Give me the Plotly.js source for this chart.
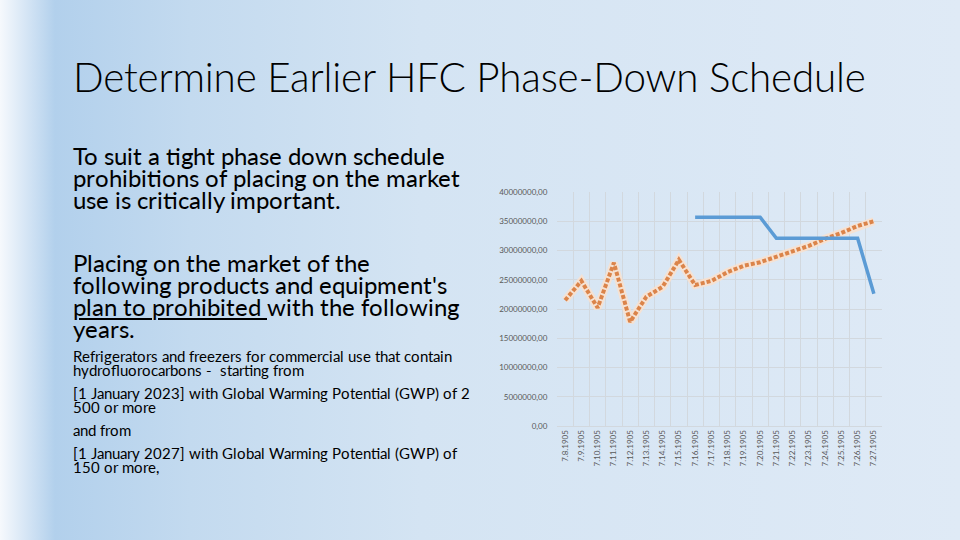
<!DOCTYPE html>
<html>
<head>
<meta charset="utf-8">
<script src="https://cdn.plot.ly/plotly-3.0.1.min.js"></script>
<style>
  /* same Lato glyphs, tighter line metrics so the slide's close line spacing fits */
  @font-face {
    font-family: "LatoTight";
    src: local("Lato Regular"), local("Lato-Regular"), local("Lato");
    ascent-override: 74%;
    descent-override: 17%;
    line-gap-override: 0%;
  }
  html, body { margin: 0; padding: 0; }
  body {
    width: 960px; height: 540px; overflow: hidden; position: relative;
    background: linear-gradient(to right, #f6f9fd 0px, #b2d0ec 55px, #c3daef 190px, #d4e4f3 420px, #dfeaf6 960px);
    font-family: Lato, "Open Sans", sans-serif; color: #000;
  }
  #chart { position: absolute; left: 0; top: 0; width: 960px; height: 540px; }
  .txt { position: absolute; left: 73px; white-space: nowrap; pointer-events: none; }
  #title { top: 52px; left: 73px; font-size: 40.4px; font-weight: 300; letter-spacing: -0.2px; }
  #p1, #p2, #p3 { font-family: LatoTight, Lato, sans-serif; }
  #p1, #p2 { font-size: 24px; }
  #p1 { top: 146.5px; }
  #p2 { top: 253.5px; }
  #p1 .ln, #p2 .ln { height: 22px; line-height: 22px; }
  #p3 { top: 351px; font-size: 15px; }
  #p3 .ln { height: 14px; line-height: 14px; }
  #p3 .gap { height: 9px; }
  u { text-decoration-thickness: 2px; text-underline-offset: 2px; }
</style>
</head>
<body>
<div id="chart"></div>
<div class="txt" id="title">Determine Earlier HFC Phase-Down Schedule</div>
<div class="txt" id="p1">
  <div class="ln">To suit a tight phase down schedule</div>
  <div class="ln">prohibitions of placing on the market</div>
  <div class="ln">use is critically important.</div>
</div>
<div class="txt" id="p2">
  <div class="ln">Placing on the market of the</div>
  <div class="ln">following products and equipment's</div>
  <div class="ln"><u>plan to prohibited </u>with the following</div>
  <div class="ln">years.</div>
</div>
<div class="txt" id="p3">
  <div class="ln">Refrigerators and freezers for commercial use that contain</div>
  <div class="ln">hydrofluorocarbons -&nbsp; starting from</div>
  <div class="gap"></div>
  <div class="ln">[1 January 2023] with Global Warming Potential (GWP) of 2</div>
  <div class="ln">500 or more</div>
  <div class="gap"></div>
  <div class="ln">and from</div>
  <div class="gap"></div>
  <div class="ln">[1 January 2027] with Global Warming Potential (GWP) of</div>
  <div class="ln">150 or more,</div>
</div>
<script>
// category labels along the x axis
const dates = ["7.8.1905", "7.9.1905", "7.10.1905", "7.11.1905", "7.12.1905",
  "7.13.1905", "7.14.1905", "7.15.1905", "7.16.1905", "7.17.1905",
  "7.18.1905", "7.19.1905", "7.20.1905", "7.21.1905", "7.22.1905",
  "7.23.1905", "7.24.1905", "7.25.1905", "7.26.1905", "7.27.1905"];

// orange dotted series
const usage = [21.5e6, 24.8e6, 20.2e6, 27.9e6, 17.8e6, 22.1e6, 23.8e6, 28.4e6, 24.1e6, 24.8e6,
  26.3e6, 27.4e6, 28.0e6, 28.9e6, 29.9e6, 30.8e6, 32.0e6, 33.0e6, 34.2e6, 35.0e6];

// blue step-down series (starts at 7.16)
const limit = [null, null, null, null, null, null, null, null, 35.7e6, 35.7e6,
  35.7e6, 35.7e6, 35.7e6, 32.1e6, 32.1e6, 32.1e6, 32.1e6, 32.1e6, 32.1e6, 22.6e6];

// y tick values and their labels
const yTicks = [0, 5e6, 10e6, 15e6, 20e6, 25e6, 30e6, 35e6, 40e6];
const yLabels = ["0,00", "5000000,00", "10000000,00", "15000000,00", "20000000,00",
  "25000000,00", "30000000,00", "35000000,00", "40000000,00"];

const data = [
  {
    // soft glow under the dotted line
    x: dates, y: usage, type: "scatter", mode: "lines",
    line: { color: "rgba(250,224,204,0.85)", width: 8 },
    hoverinfo: "skip", showlegend: false
  },
  {
    x: dates, y: usage, type: "scatter", mode: "lines",
    line: { color: "#db844a", width: 4, dash: "4px,2px" },
    showlegend: false
  },
  {
    x: dates, y: limit, type: "scatter", mode: "lines",
    line: { color: "#5b9bd5", width: 3.5 },
    connectgaps: false, showlegend: false
  }
];

const layout = {
  width: 960, height: 540,
  margin: { l: 557, r: 78, t: 192, b: 114, pad: 0 },
  paper_bgcolor: "rgba(0,0,0,0)",
  plot_bgcolor: "rgba(0,0,0,0)",
  showlegend: false,
  font: { family: "Lato, 'Open Sans', sans-serif", color: "#595959" },
  xaxis: {
    type: "category",
    tickson: "boundaries",
    ticks: "",
    tickangle: -90,
    tickfont: { size: 8, color: "#595959" },
    showgrid: true, gridcolor: "#d2d8de", gridwidth: 1,
    showline: true, linecolor: "#d2d8de",
    zeroline: false,
    range: [-0.5, 19.5]
  },
  yaxis: {
    range: [0, 40e6],
    tickvals: yTicks, ticktext: yLabels,
    tickfont: { size: 8, color: "#595959" },
    ticks: "outside", ticklen: 7, tickcolor: "rgba(0,0,0,0)",
    showgrid: true, gridcolor: "#d2d8de", gridwidth: 1,
    zeroline: false, showline: false
  }
};

Plotly.newPlot("chart", data, layout, { displayModeBar: false, staticPlot: true });
</script>
</body>
</html>
